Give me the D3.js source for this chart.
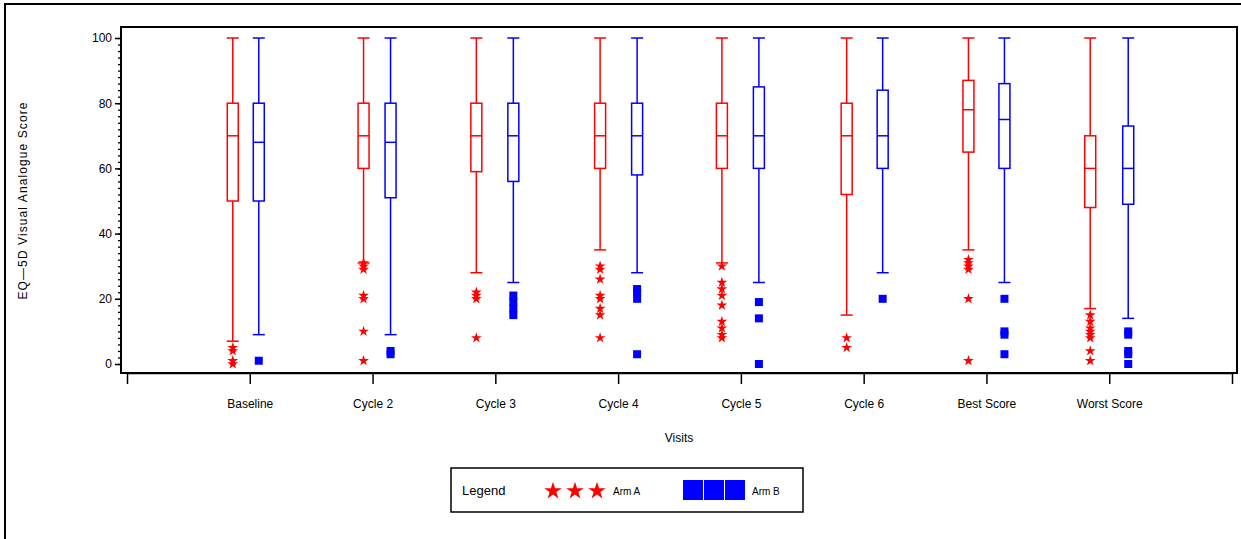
<!DOCTYPE html>
<html>
<head>
<meta charset="utf-8">
<script src="https://cdn.jsdelivr.net/npm/d3@7"></script>
<style>
  html, body { margin: 0; padding: 0; background: #fff; }
  svg { display: block; font-family: "Liberation Sans", Arial, sans-serif; }
</style>
</head>
<body>
<svg id="chart" width="1241" height="539"></svg>
<script>
// Visits on the x axis
const visits = ["Baseline", "Cycle 2", "Cycle 3", "Cycle 4", "Cycle 5", "Cycle 6", "Best Score", "Worst Score"];
const yTicks = [0, 20, 40, 60, 80, 100];
const arms = ["Arm A", "Arm B"];

// Arm A box statistics per visit
const lowA  = [7, 31, 28, 35, 31, 15, 35, 17];
const q1A   = [50, 60, 59, 60, 60, 52, 65, 48];
const medA  = [70, 70, 70, 70, 70, 70, 78, 60];
const q3A   = [80, 80, 80, 80, 80, 80, 87, 70];
const highA = [100, 100, 100, 100, 100, 100, 100, 100];
const outA  = [
  [5, 4, 1, 0],
  [31, 30, 29, 21, 20, 10, 1],
  [22, 21, 20, 8],
  [30, 29, 26, 21, 20, 17, 15, 8],
  [30, 25, 23, 21, 18, 13, 11, 9, 8],
  [8, 5],
  [32, 31, 30, 29, 20, 1],
  [15, 13, 11, 10, 9, 8, 4, 1]
];

// Arm B box statistics per visit
const lowB  = [9, 9, 25, 28, 25, 28, 25, 14];
const q1B   = [50, 51, 56, 58, 60, 60, 60, 49];
const medB  = [68, 68, 70, 70, 70, 70, 75, 60];
const q3B   = [80, 80, 80, 80, 85, 84, 86, 73];
const highB = [100, 100, 100, 100, 100, 100, 100, 100];
const outB  = [
  [1],
  [4, 3],
  [21, 19, 17, 15],
  [23, 22, 20, 3],
  [19, 14, 0],
  [20],
  [20, 10, 9, 3],
  [10, 9, 4, 3, 0]
];

// Layout: colours and horizontal shift (px) of each arm's box from the visit tick
const armColor = { "Arm A": "#ff0000", "Arm B": "#0000ff" };
const armShift = {
  "Arm A": [-17, -9, -19, -18, -19, -17, -18, -19],
  "Arm B": [9, 18, 18, 19, 18, 19, 18, 19]
};

const series = {
  "Arm A": visits.map((v, i) => ({ i, visit: v, low: lowA[i], q1: q1A[i], med: medA[i], q3: q3A[i], high: highA[i], out: outA[i] })),
  "Arm B": visits.map((v, i) => ({ i, visit: v, low: lowB[i], q1: q1B[i], med: medB[i], q3: q3B[i], high: highB[i], out: outB[i] }))
};

const svg = d3.select("#chart");

// Plot area frame
const frame = { left: 121, top: 27, right: 1237, bottom: 373 };

const x = d3.scalePoint().domain(visits).range([127, 1232]).padding(1);
const y = d3.scaleLinear().domain([0, 100]).range([364, 38]);

// Outer border of the figure
svg.append("rect")
  .attr("x", 5).attr("y", 4).attr("width", 1250).attr("height", 560)
  .attr("fill", "none").attr("stroke", "#000").attr("stroke-width", 2);

svg.append("rect")
  .attr("x", frame.left).attr("y", frame.top)
  .attr("width", frame.right - frame.left).attr("height", frame.bottom - frame.top)
  .attr("fill", "none").attr("stroke", "#000").attr("stroke-width", 2);

// Y axis: major ticks with labels, minor ticks every 2 units
const yAxis = svg.append("g")
  .attr("transform", `translate(${frame.left},0)`)
  .call(d3.axisLeft(y).tickValues(yTicks).tickSize(6).tickPadding(3).tickFormat(d3.format("d")));
yAxis.select(".domain").remove();
yAxis.selectAll(".tick line").attr("stroke-width", 1.5);
yAxis.selectAll(".tick text").attr("font-size", 12).attr("fill", "#000");

const yMinor = svg.append("g")
  .attr("transform", `translate(${frame.left},0)`)
  .call(d3.axisLeft(y).tickValues(d3.range(0, 101, 2)).tickSize(3).tickFormat(""));
yMinor.select(".domain").remove();
yMinor.selectAll(".tick line").attr("stroke-width", 1.3);

// X axis
const xAxis = svg.append("g")
  .attr("transform", `translate(0,${frame.bottom})`)
  .call(d3.axisBottom(x).tickSizeInner(11).tickSizeOuter(11).tickPadding(15));
xAxis.select(".domain").attr("stroke-width", 1.5);
xAxis.selectAll(".tick line").attr("stroke-width", 1.5);
xAxis.selectAll(".tick text").attr("font-size", 12).attr("fill", "#000");

// Axis titles
svg.append("text")
  .attr("transform", "translate(27,201) rotate(-90)")
  .attr("text-anchor", "middle")
  .attr("font-size", 12)
  .attr("textLength", 197).attr("lengthAdjust", "spacing")
  .text("EQ\u20145D Visual Analogue Score");

svg.append("text")
  .attr("x", 679).attr("y", 442)
  .attr("text-anchor", "middle")
  .attr("font-size", 12)
  .text("Visits");

// Box plots
const boxW = 11, capW = 12;
const star = d3.symbol().type(d3.symbolStar).size(36);

arms.forEach(arm => {
  const col = armColor[arm];
  const g = svg.append("g").attr("class", "arm");
  const grp = g.selectAll("g.box").data(series[arm]).join("g")
    .attr("class", "box")
    .attr("transform", d => `translate(${x(d.visit) + armShift[arm][d.i]},0)`);

  grp.append("line")
    .attr("x1", 0).attr("x2", 0)
    .attr("y1", d => y(d.high)).attr("y2", d => y(d.low))
    .attr("stroke", col).attr("stroke-width", 1.5);
  grp.append("line")
    .attr("x1", -capW / 2).attr("x2", capW / 2)
    .attr("y1", d => y(d.high)).attr("y2", d => y(d.high))
    .attr("stroke", col).attr("stroke-width", 1.5);
  grp.append("line")
    .attr("x1", -capW / 2).attr("x2", capW / 2)
    .attr("y1", d => y(d.low)).attr("y2", d => y(d.low))
    .attr("stroke", col).attr("stroke-width", 1.5);
  grp.append("rect")
    .attr("x", -boxW / 2).attr("width", boxW)
    .attr("y", d => y(d.q3)).attr("height", d => y(d.q1) - y(d.q3))
    .attr("fill", "#fff").attr("stroke", col).attr("stroke-width", 1.5);
  grp.append("line")
    .attr("x1", -boxW / 2).attr("x2", boxW / 2)
    .attr("y1", d => y(d.med)).attr("y2", d => y(d.med))
    .attr("stroke", col).attr("stroke-width", 1.5);

  // Outliers: stars for Arm A, squares for Arm B
  if (arm === "Arm A") {
    grp.selectAll("path.out").data(d => d.out).join("path")
      .attr("class", "out")
      .attr("d", star)
      .attr("transform", v => `translate(0,${y(v)})`)
      .attr("fill", col);
  } else {
    grp.selectAll("rect.out").data(d => d.out).join("rect")
      .attr("class", "out")
      .attr("x", -4).attr("width", 8).attr("height", 8)
      .attr("y", v => y(v) - 4)
      .attr("fill", col);
  }
});

// Legend
const lg = svg.append("g");
lg.append("rect")
  .attr("x", 451).attr("y", 468).attr("width", 352).attr("height", 44)
  .attr("fill", "#fff").attr("stroke", "#000").attr("stroke-width", 1.5);
lg.append("text").attr("x", 462).attr("y", 495).attr("font-size", 13).text("Legend");

const bigStar = d3.symbol().type(d3.symbolStar).size(95);
[0, 1, 2].forEach(k => {
  lg.append("path").attr("d", bigStar)
    .attr("transform", `translate(${553 + k * 22},491)`)
    .attr("fill", armColor["Arm A"]);
  lg.append("rect")
    .attr("x", 683 + k * 21).attr("y", 480).attr("width", 20).attr("height", 20)
    .attr("fill", armColor["Arm B"]);
});
lg.append("text").attr("x", 613).attr("y", 495).attr("font-size", 10).text(arms[0]);
lg.append("text").attr("x", 752).attr("y", 495).attr("font-size", 10).text(arms[1]);
</script>
</body>
</html>
